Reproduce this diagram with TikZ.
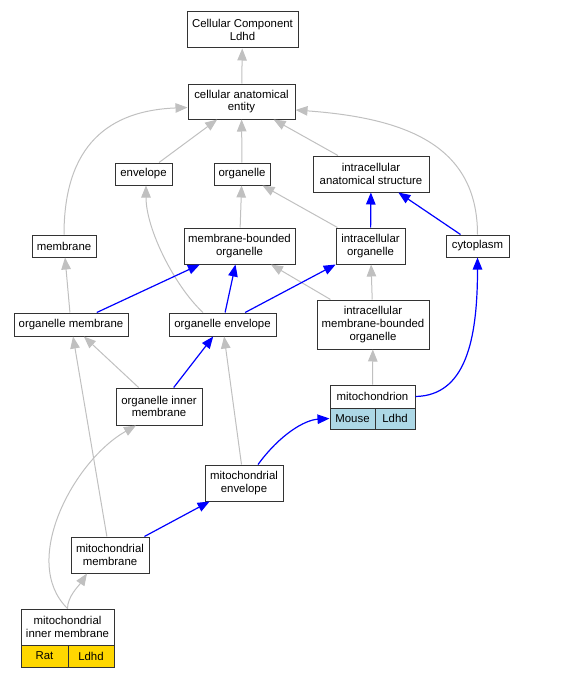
\documentclass[tikz,border=0pt]{standalone}
\usepackage{fontspec}
\setmainfont{Liberation Sans}
\usepackage{xcolor}
\usepackage{tikz}
\usetikzlibrary{arrows.meta, positioning, calc}
\definecolor{isagray}{HTML}{C0C0C0}
\definecolor{mouseblue}{HTML}{ADD8E6}
\definecolor{ratgold}{HTML}{FFD700}
\tikzset{
  term/.style 2 args={draw=black!80, line width=1pt, fill=white, inner sep=0pt, align=center,
    minimum width=#1pt, minimum height=#2pt, font=\fontsize{11.4}{12.7}\selectfont},
  isa/.style={draw=isagray, line width=1pt, -{Triangle[length=12pt,width=9.5pt]}},
  partof/.style={draw=blue, line width=1.2pt, -{Triangle[length=12pt,width=9.5pt]}}
}

\begin{document}
\begin{tikzpicture}[x=1pt, y=-1pt]
    \useasboundingbox (0,0) rectangle (580,677);

    \node[term={111}{36}] (cc) at (242.5,30) {Cellular Component\\Ldhd};
    \node[term={107}{35}] (cae) at (241.5,101.5) {cellular anatomical\\entity};
    \node[term={57}{22}] (env) at (143.5,174) {envelope};
    \node[term={56}{22}] (org) at (242,174) {organelle};
    \node[term={116}{36}] (ias) at (371,174) {intracellular\\anatomical structure};
    \node[term={64}{22}] (memb) at (64,246) {membrane};
    \node[term={111}{36}] (mbo) at (239.5,246) {membrane-bounded\\organelle};
    \node[term={69}{36}] (io) at (370.5,246) {intracellular\\organelle};
    \node[term={63}{22}] (cyto) at (477.5,246) {cytoplasm};
    \node[term={114}{23}] (om) at (71,324.5) {organelle membrane};
    \node[term={107}{23}] (oe) at (222.5,324.5) {organelle envelope};
    \node[term={112}{49}] (imbo) at (373,324.5) {intracellular\\membrane-bounded\\organelle};
    \node[term={86}{37}] (oim) at (159,406.5) {organelle inner\\membrane};
    \node[term={85}{23}] (mito) at (372.5,396.5) {mitochondrion};
    \node[term={45}{21}, fill=mouseblue] (mitoM) at (352.5,418.5) {Mouse};
    \node[term={40}{21}, fill=mouseblue] (mitoL) at (395,418.5) {Ldhd};
    \node[term={78}{36}] (menv) at (244,483) {mitochondrial\\envelope};
    \node[term={78}{36}] (mmem) at (110,555) {mitochondrial\\membrane};
    \node[term={93}{36}] (mim) at (67.5,627) {mitochondrial\\inner membrane};
    \node[term={47}{22}, fill=ratgold] (mimR) at (44.5,656) {Rat};
    \node[term={46}{22}, fill=ratgold] (mimL) at (91,656) {Ldhd};

    \draw[isa] (cae) -- (cc);
    \draw[isa] (env) -- (cae);
    \draw[isa] (org) -- (cae);
    \draw[isa] (ias) -- (cae);
    \draw[isa] (memb.north) .. controls +(0,-90) and +(-78,3) .. ([yshift=-6pt]cae.west);
    \draw[isa] (cyto.north) .. controls +(0,-90) and +(109,8) .. ([yshift=-8.5pt]cae.east);
    \draw[isa] (mbo) -- (org);
    \draw[isa] (io) -- (org);
    \draw[isa] ([xshift=-19.5pt]oe.north) .. controls +(-28,-26) and +(0,44) .. ([xshift=2.5pt]env.south);
    \draw[isa] (om) -- (memb);
    \draw[isa] (imbo) -- (mbo);
    \draw[isa] (imbo) -- (io);
    \draw[isa] (mito) -- (imbo);
    \draw[isa] (oim) -- (om);
    \draw[isa] (mmem) -- (om);
    \draw[isa] (menv) -- (oe);
    \draw[isa] (mim.north) .. controls +(-48,-47) and +(-62,35) .. ([xshift=-23pt]oim.south);
    \draw[isa] (mim.north) .. controls +(0,-12) and +(-8,12) .. ([xshift=-23pt]mmem.south);

    \draw[partof] (io) -- (ias);
    \draw[partof] (cyto) -- (ias);
    \draw[partof] (om) -- (mbo);
    \draw[partof] (oe) -- (mbo);
    \draw[partof] (oe) -- (io);
    \draw[partof] (oim) -- (oe);
    \draw[partof] (mito.east) .. controls +(50,-1) and +(0,83) .. (cyto.south);
    \draw[partof] ([xshift=14pt]menv.north) .. controls +(22,-30) and +(-25,1.5) .. (mitoM.west);
    \draw[partof] (mmem) -- (menv);
  \end{tikzpicture}
\end{document}
